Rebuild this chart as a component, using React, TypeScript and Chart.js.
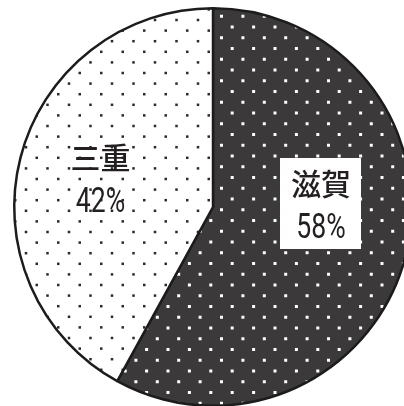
import React, { useEffect, useRef } from "react";
import { Chart, registerables } from "chart.js";

Chart.register(...registerables);

// ---- data ----
const categories = ["滋賀", "三重"];
const shares = [58, 42];
const shareLabels = ["58%", "42%"];

// ---- geometry of the pie in the picture ----
const CW = 420;
const CH = 412;
const CX = 213;
const CY = 207;
const R = 200;

function makePattern(
  bg: string,
  dot: string,
  px: number,
  py: number,
  nx: number,
  ny: number,
  phaseX: number,
  phaseY: number,
  size: number
): CanvasPattern | string {
  const tw = Math.round(px * nx);
  const th = Math.round(py * ny);
  const c = document.createElement("canvas");
  c.width = tw;
  c.height = th;
  const g = c.getContext("2d");
  if (!g) return bg;
  g.fillStyle = bg;
  g.fillRect(0, 0, tw, th);
  g.fillStyle = dot;
  const put = (x: number, y: number) => {
    const xm = ((x % tw) + tw) % tw;
    const ym = ((y % th) + th) % th;
    for (const dx of [0, -tw, tw]) {
      for (const dy of [0, -th, th]) {
        g.fillRect(xm + dx - size / 2, ym + dy - size / 2, size, size);
      }
    }
  };
  for (let i = 0; i < nx; i++) {
    for (let j = 0; j < ny; j++) {
      put(phaseX + i * px, phaseY + j * py);
      put(phaseX + px / 2 + i * px, phaseY + py / 2 + j * py);
    }
  }
  const ctx = document.createElement("canvas").getContext("2d");
  const p = ctx ? ctx.createPattern(c, "repeat") : null;
  return p || bg;
}

const labelPlugin = {
  id: "pieLabels",
  afterDraw(chart: any) {
    const ctx = chart.ctx as CanvasRenderingContext2D;
    ctx.save();
    // white box behind 滋賀 label
    ctx.fillStyle = "#ffffff";
    ctx.fillRect(280, 158, 81, 91);
    ctx.fillStyle = "#231f20";
    ctx.textAlign = "center";
    const pos = [
      { x: 321, y: 184, by: 238 },
      { x: 100.5, y: 158, by: 212 },
    ];
    categories.forEach((name, i) => {
      const p = pos[i];
      ctx.font = "500 30px 'Noto Sans CJK JP', sans-serif";
      ctx.textBaseline = "middle";
      ctx.fillText(name, p.x, p.y);
      ctx.save();
      ctx.translate(p.x, p.by);
      ctx.scale(0.76, 1);
      ctx.font = "35px Roboto, 'DejaVu Sans', sans-serif";
      ctx.textBaseline = "alphabetic";
      ctx.fillText(shareLabels[i], 0, 0);
      ctx.restore();
    });
    ctx.restore();
  },
};

export default function App() {
  const ref = useRef<HTMLCanvasElement | null>(null);
  useEffect(() => {
    if (!ref.current) return;
    const dark = makePattern("#3b393a", "#ffffff", 21.4, 21.5, 5, 2, 18.2, 5.5, 3);
    const light = makePattern("#ffffff", "#2b2b2b", 21.5, 21.2, 2, 5, 4.5, 20, 2.5);
    const chart = new Chart(ref.current, {
      type: "pie",
      data: {
        labels: categories,
        datasets: [
          {
            data: shares,
            backgroundColor: [dark, light] as any,
            borderColor: "#1c1c1c",
            borderWidth: 2.5,
          },
        ],
      },
      options: {
        responsive: false,
        animation: false,
        events: [],
        layout: {
          padding: {
            left: CX - R,
            top: CY - R,
            right: CW - (CX + R),
            bottom: CH - (CY + R),
          },
        },
        plugins: {
          legend: { display: false },
          tooltip: { enabled: false },
        },
      },
      plugins: [labelPlugin],
    });
    return () => chart.destroy();
  }, []);
  return (
    <div
      style={{
        position: "fixed",
        left: 0,
        top: 0,
        width: 404,
        height: 406,
        overflow: "hidden",
        background: "#fff",
      }}
    >
      <canvas ref={ref} width={CW} height={CH} style={{ display: "block" }} />
    </div>
  );
}
